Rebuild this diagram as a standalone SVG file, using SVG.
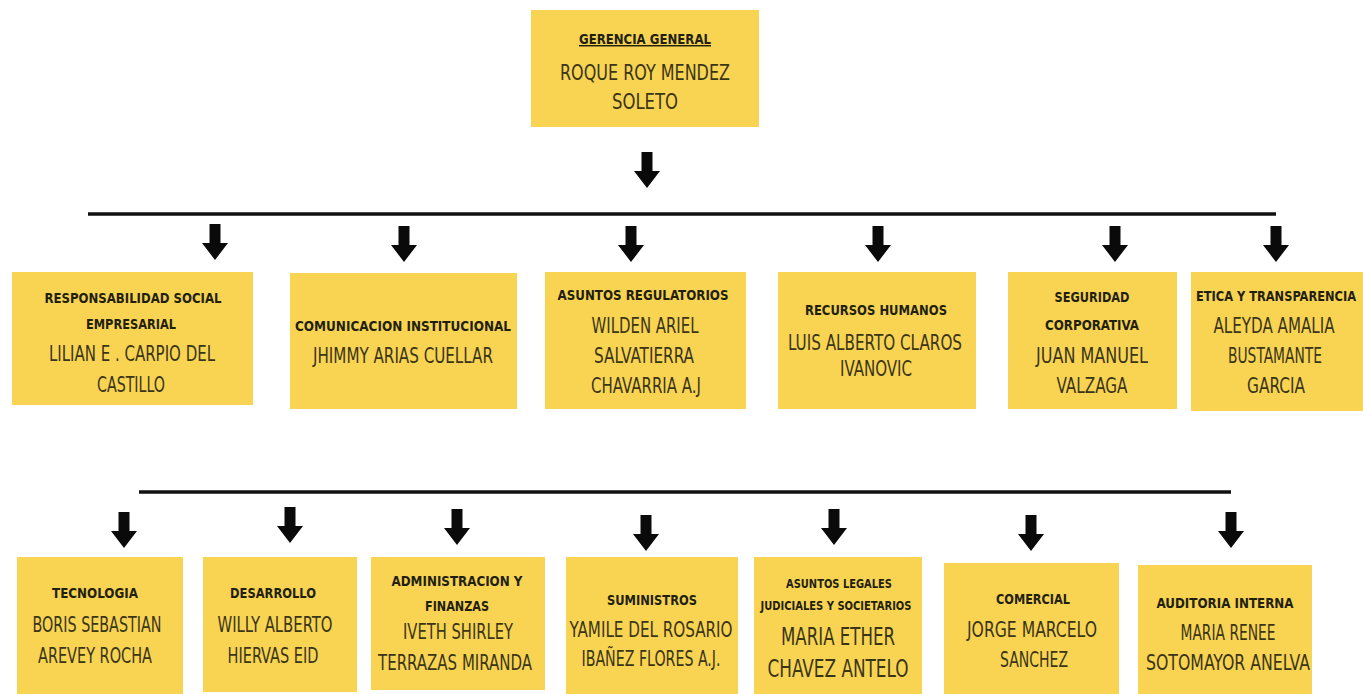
<svg xmlns="http://www.w3.org/2000/svg" width="1363" height="694" viewBox="0 0 1363 694">
  <defs>
    <style>
      .box { fill: #F9D452; }
      .t { font-family: "DejaVu Sans Condensed", "Liberation Sans", sans-serif; font-weight: bold; font-size: 14.5px; fill: #221f10; text-anchor: middle; }
      .n { font-family: "DejaVu Sans Condensed", "Liberation Sans", sans-serif; font-size: 22px; fill: #3a3518; text-anchor: middle; }
      .bar { stroke: #111; stroke-width: 3.5; fill: none; }
    </style>
    <!-- block arrow pointing down, origin at top centre -->
    <path id="arr" d="M-5.5,0 H5.5 V19 H13 L0,36 L-13,19 H-5.5 Z" fill="#0a0a0a"/>
  </defs>

  <rect width="1363" height="694" fill="#ffffff"/>

  <!-- connectors -->
  <g id="connectors">
    <use href="#arr" x="647" y="152"/>
    <line class="bar" x1="88" y1="214" x2="1276" y2="214"/>
    <use href="#arr" x="215" y="224"/>
    <use href="#arr" x="404" y="226"/>
    <use href="#arr" x="631" y="226"/>
    <use href="#arr" x="878" y="226"/>
    <use href="#arr" x="1115" y="226"/>
    <use href="#arr" x="1276" y="226"/>
    <line class="bar" x1="139" y1="492" x2="1231" y2="492"/>
    <use href="#arr" x="124" y="512"/>
    <use href="#arr" x="290" y="507"/>
    <use href="#arr" x="457" y="509"/>
    <use href="#arr" x="646" y="515"/>
    <use href="#arr" x="834" y="509"/>
    <use href="#arr" x="1031" y="515"/>
    <use href="#arr" x="1231" y="512"/>
  </g>

  <!-- top -->
  <g id="gerencia-general">
    <rect class="box" x="531" y="10" width="228" height="117"/>
    <text class="t" x="645" y="44" textLength="132" lengthAdjust="spacingAndGlyphs" text-decoration="underline">GERENCIA GENERAL</text>
    <text class="n" x="645" y="80" textLength="170" lengthAdjust="spacingAndGlyphs">ROQUE ROY MENDEZ</text>
    <text class="n" x="645" y="109" textLength="66" lengthAdjust="spacingAndGlyphs">SOLETO</text>
  </g>

  <!-- first row -->
  <g id="responsabilidad-social">
    <rect class="box" x="12" y="272" width="241" height="133"/>
    <text class="t" x="133" y="303" textLength="177" lengthAdjust="spacingAndGlyphs">RESPONSABILIDAD SOCIAL</text>
    <text class="t" x="131" y="329" textLength="90" lengthAdjust="spacingAndGlyphs">EMPRESARIAL</text>
    <text class="n" x="132" y="361" textLength="166" lengthAdjust="spacingAndGlyphs">LILIAN E . CARPIO DEL</text>
    <text class="n" x="131" y="392" textLength="68" lengthAdjust="spacingAndGlyphs">CASTILLO</text>
  </g>
  <g id="comunicacion">
    <rect class="box" x="290" y="273" width="227" height="136"/>
    <text class="t" x="403" y="331" textLength="216" lengthAdjust="spacingAndGlyphs">COMUNICACION INSTITUCIONAL</text>
    <text class="n" x="403" y="363" textLength="180" lengthAdjust="spacingAndGlyphs">JHIMMY ARIAS CUELLAR</text>
  </g>
  <g id="asuntos-regulatorios">
    <rect class="box" x="545" y="272" width="201" height="137"/>
    <text class="t" x="643" y="300" textLength="171" lengthAdjust="spacingAndGlyphs">ASUNTOS REGULATORIOS</text>
    <text class="n" x="645" y="333" textLength="107" lengthAdjust="spacingAndGlyphs">WILDEN ARIEL</text>
    <text class="n" x="644" y="363" textLength="100" lengthAdjust="spacingAndGlyphs">SALVATIERRA</text>
    <text class="n" x="646" y="393" textLength="110" lengthAdjust="spacingAndGlyphs">CHAVARRIA A.J</text>
  </g>
  <g id="recursos-humanos">
    <rect class="box" x="778" y="272" width="198" height="137"/>
    <text class="t" x="876" y="315" textLength="142" lengthAdjust="spacingAndGlyphs">RECURSOS HUMANOS</text>
    <text class="n" x="875" y="350" textLength="174" lengthAdjust="spacingAndGlyphs">LUIS ALBERTO CLAROS</text>
    <text class="n" x="876" y="376" textLength="72" lengthAdjust="spacingAndGlyphs">IVANOVIC</text>
  </g>
  <g id="seguridad-corporativa">
    <rect class="box" x="1008" y="272" width="169" height="137"/>
    <text class="t" x="1092" y="302" textLength="75" lengthAdjust="spacingAndGlyphs">SEGURIDAD</text>
    <text class="t" x="1092" y="330" textLength="94" lengthAdjust="spacingAndGlyphs">CORPORATIVA</text>
    <text class="n" x="1092" y="363" textLength="112" lengthAdjust="spacingAndGlyphs">JUAN MANUEL</text>
    <text class="n" x="1092" y="393" textLength="71" lengthAdjust="spacingAndGlyphs">VALZAGA</text>
  </g>
  <g id="etica-transparencia">
    <rect class="box" x="1191" y="272" width="172" height="139"/>
    <text class="t" x="1276" y="301" textLength="160" lengthAdjust="spacingAndGlyphs">ETICA Y TRANSPARENCIA</text>
    <text class="n" x="1274" y="333" textLength="121" lengthAdjust="spacingAndGlyphs">ALEYDA AMALIA</text>
    <text class="n" x="1275" y="363" textLength="94" lengthAdjust="spacingAndGlyphs">BUSTAMANTE</text>
    <text class="n" x="1276" y="393" textLength="58" lengthAdjust="spacingAndGlyphs">GARCIA</text>
  </g>

  <!-- second row -->
  <g id="tecnologia">
    <rect class="box" x="17" y="557" width="166" height="137"/>
    <text class="t" x="95" y="598" textLength="86" lengthAdjust="spacingAndGlyphs">TECNOLOGIA</text>
    <text class="n" x="97" y="632" textLength="129" lengthAdjust="spacingAndGlyphs">BORIS SEBASTIAN</text>
    <text class="n" x="95" y="663" textLength="114" lengthAdjust="spacingAndGlyphs">AREVEY ROCHA</text>
  </g>
  <g id="desarrollo">
    <rect class="box" x="203" y="557" width="154" height="135"/>
    <text class="t" x="273" y="598" textLength="86" lengthAdjust="spacingAndGlyphs">DESARROLLO</text>
    <text class="n" x="275" y="632" textLength="115" lengthAdjust="spacingAndGlyphs">WILLY ALBERTO</text>
    <text class="n" x="273" y="663" textLength="91" lengthAdjust="spacingAndGlyphs">HIERVAS EID</text>
  </g>
  <g id="administracion-finanzas">
    <rect class="box" x="371" y="557" width="174" height="133"/>
    <text class="t" x="457" y="586" textLength="131" lengthAdjust="spacingAndGlyphs">ADMINISTRACION Y</text>
    <text class="t" x="457" y="611" textLength="64" lengthAdjust="spacingAndGlyphs">FINANZAS</text>
    <text class="n" x="458" y="639" textLength="110" lengthAdjust="spacingAndGlyphs">IVETH  SHIRLEY</text>
    <text class="n" x="455" y="670" textLength="154" lengthAdjust="spacingAndGlyphs">TERRAZAS MIRANDA</text>
  </g>
  <g id="suministros">
    <rect class="box" x="566" y="557" width="172" height="137"/>
    <text class="t" x="652" y="605" textLength="90" lengthAdjust="spacingAndGlyphs">SUMINISTROS</text>
    <text class="n" x="651" y="637" textLength="163" lengthAdjust="spacingAndGlyphs">YAMILE DEL ROSARIO</text>
    <text class="n" x="651" y="666" textLength="139" lengthAdjust="spacingAndGlyphs">IBAÑEZ FLORES A.J.</text>
  </g>
  <g id="asuntos-legales">
    <rect class="box" x="754" y="557" width="168" height="137"/>
    <text class="t" x="839" y="588" textLength="106" lengthAdjust="spacingAndGlyphs" style="font-size:11.5px">ASUNTOS LEGALES</text>
    <text class="t" x="836" y="610" textLength="151" lengthAdjust="spacingAndGlyphs" style="font-size:11.5px">JUDICIALES Y SOCIETARIOS</text>
    <text class="n" x="838" y="645" textLength="114" lengthAdjust="spacingAndGlyphs" style="font-size:24px">MARIA ETHER</text>
    <text class="n" x="838" y="677" textLength="141" lengthAdjust="spacingAndGlyphs" style="font-size:24px">CHAVEZ ANTELO</text>
  </g>
  <g id="comercial">
    <rect class="box" x="944" y="563" width="175" height="131"/>
    <text class="t" x="1033" y="604" textLength="74" lengthAdjust="spacingAndGlyphs">COMERCIAL</text>
    <text class="n" x="1032" y="637" textLength="130" lengthAdjust="spacingAndGlyphs">JORGE MARCELO</text>
    <text class="n" x="1034" y="667" textLength="68" lengthAdjust="spacingAndGlyphs">SANCHEZ</text>
  </g>
  <g id="auditoria-interna">
    <rect class="box" x="1138" y="565" width="174" height="129"/>
    <text class="t" x="1225" y="608" textLength="137" lengthAdjust="spacingAndGlyphs">AUDITORIA INTERNA</text>
    <text class="n" x="1228" y="640" textLength="95" lengthAdjust="spacingAndGlyphs">MARIA RENEE</text>
    <text class="n" x="1228" y="670" textLength="164" lengthAdjust="spacingAndGlyphs">SOTOMAYOR ANELVA</text>
  </g>
</svg>
